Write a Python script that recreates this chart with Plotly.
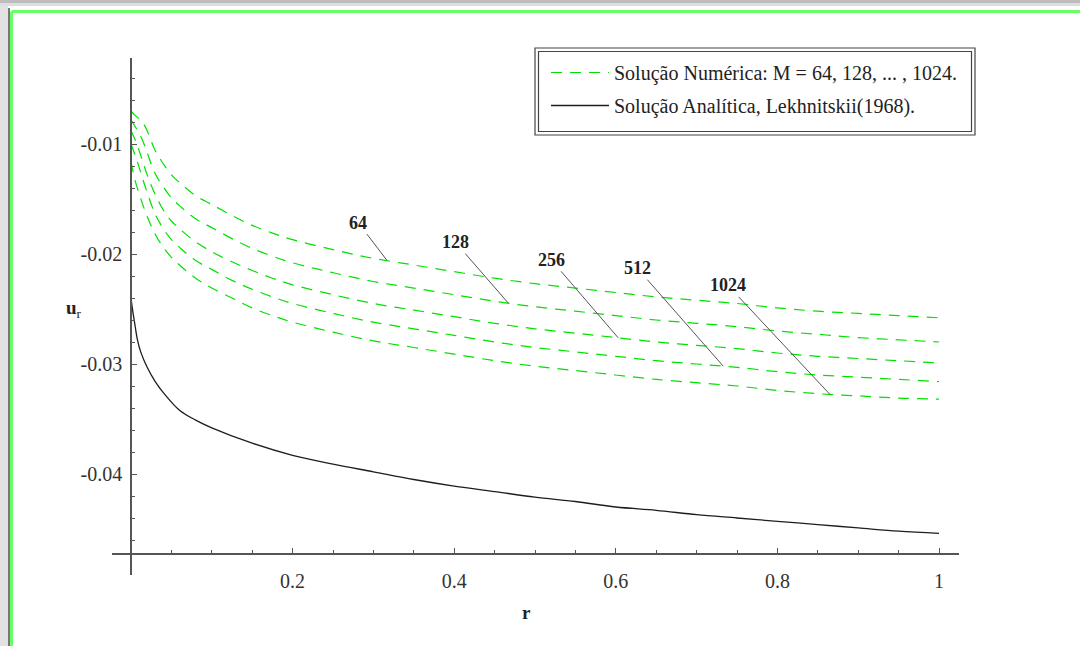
import numpy as np
import plotly.graph_objects as go

# ---------------- data ----------------
r_num = [0, 0.005, 0.01, 0.015, 0.02, 0.03, 0.04, 0.05, 0.06, 0.08, 0.1, 0.125, 0.15, 0.175, 0.2,
         0.25, 0.3, 0.35, 0.4, 0.45, 0.5, 0.55, 0.6, 0.65, 0.7, 0.75, 0.8, 0.85, 0.9, 0.95, 1.0]

u_m64 = [-0.0070, -0.0074, -0.0077, -0.0081, -0.0088, -0.0106, -0.0118, -0.0128, -0.0135, -0.0147,
         -0.0155, -0.0165, -0.0174, -0.0181, -0.0187, -0.0196, -0.0204, -0.0210, -0.0216, -0.0222,
         -0.0227, -0.0231, -0.0235, -0.0239, -0.0242, -0.0245, -0.0249, -0.0252, -0.0254, -0.0256, -0.0258]
u_m128 = [-0.0078, -0.0084, -0.0090, -0.0098, -0.0108, -0.0127, -0.0139, -0.0149, -0.0156, -0.0168,
          -0.0176, -0.0186, -0.0195, -0.0202, -0.0208, -0.0217, -0.0225, -0.0231, -0.0237, -0.0243,
          -0.0248, -0.0252, -0.0256, -0.0260, -0.0263, -0.0266, -0.0270, -0.0273, -0.0276, -0.0278, -0.0280]
u_m256 = [-0.0088, -0.0096, -0.0106, -0.0117, -0.0128, -0.0146, -0.0160, -0.0170, -0.0177, -0.0189,
          -0.0198, -0.0207, -0.0215, -0.0222, -0.0228, -0.0237, -0.0245, -0.0251, -0.0257, -0.0263,
          -0.0268, -0.0272, -0.0276, -0.0280, -0.0283, -0.0286, -0.0290, -0.0293, -0.0295, -0.0297, -0.0299]
u_m512 = [-0.0100, -0.0110, -0.0121, -0.0133, -0.0144, -0.0164, -0.0177, -0.0187, -0.0194, -0.0206,
          -0.0214, -0.0224, -0.0232, -0.0239, -0.0245, -0.0254, -0.0262, -0.0268, -0.0274, -0.0280,
          -0.0285, -0.0289, -0.0293, -0.0297, -0.0300, -0.0303, -0.0307, -0.0310, -0.0312, -0.0314, -0.0316]
u_m1024 = [-0.0116, -0.0133, -0.0145, -0.0156, -0.0166, -0.0182, -0.0194, -0.0203, -0.0210, -0.0222,
           -0.0231, -0.0240, -0.0249, -0.0256, -0.0262, -0.0271, -0.0279, -0.0285, -0.0291, -0.0297,
           -0.0302, -0.0306, -0.0310, -0.0314, -0.0317, -0.0320, -0.0324, -0.0327, -0.0329, -0.0331, -0.0332]

r_ana = [0, 0.002, 0.005, 0.008, 0.012, 0.02, 0.03, 0.04, 0.06, 0.08, 0.1, 0.15, 0.2, 0.25, 0.3,
         0.35, 0.4, 0.45, 0.5, 0.55, 0.6, 0.65, 0.7, 0.75, 0.8, 0.85, 0.9, 0.95, 1.0]
u_ana = [-0.0240, -0.0251, -0.0265, -0.0278, -0.0289, -0.0303, -0.0316, -0.0326, -0.0342, -0.0351,
         -0.0358, -0.0372, -0.0383, -0.0391, -0.0398, -0.0405, -0.0411, -0.0416, -0.0421, -0.0425,
         -0.0430, -0.0433, -0.0437, -0.0440, -0.0443, -0.0446, -0.0449, -0.0452, -0.0454]

curve_labels = ["64", "128", "256", "512", "1024"]
label_r = [0.317, 0.467, 0.603, 0.733, 0.865]

x_tickvals = [0.2, 0.4, 0.6, 0.8, 1.0]
x_ticktext = ["0.2", "0.4", "0.6", "0.8", "1"]
y_tickvals = [-0.04, -0.03, -0.02, -0.01]
y_ticktext = ["-0.04", "-0.03", "-0.02", "-0.01"]

legend_num = "Solução Numérica: M = 64, 128, ... , 1024."
legend_ana = "Solução Analítica, Lekhnitskii(1968)."

# ---------------- layout geometry ----------------
W, H = 1080, 646
L, R, T, B = 112, 959, 58, 575   # plot area in pixels


def px(x):
    return (x - L) / (R - L)


def py(y):
    return (B - y) / (B - T)


SERIF = "Liberation Serif"
GREEN = "rgb(0,225,0)"

numeric = [u_m64, u_m128, u_m256, u_m512, u_m1024]

fig = go.Figure()
for i, ys in enumerate(numeric):
    fig.add_trace(go.Scatter(
        x=r_num, y=ys, mode="lines", line_shape="spline",
        line=dict(color=GREEN, width=1.2, dash="11px,8px"),
        name=legend_num, legendgroup="num", showlegend=(i == 0),
    ))
fig.add_trace(go.Scatter(
    x=r_ana, y=u_ana, mode="lines", line_shape="spline",
    line=dict(color="#1e1e1e", width=1.3),
    name=legend_ana, legendgroup="ana",
))

# curve labels with leader lines
offsets = [(-29, -38), (-53, -61), (-67, -78), (-86, -98), (-102, -109)]
for lab, rr, ys, (ax, ay) in zip(curve_labels, label_r, numeric, offsets):
    yv = float(np.interp(rr, r_num, ys))
    fig.add_annotation(x=rr, y=yv, xref="x", yref="y", text="<b>" + lab + "</b>",
                       showarrow=True, arrowhead=0, arrowwidth=1, arrowcolor="#555",
                       ax=ax, ay=ay, font=dict(family=SERIF, size=18, color="#222"))

# axis titles
fig.add_annotation(x=px(526), y=py(612), xref="paper", yref="paper", text="<b>r</b>",
                   xanchor="center", yanchor="middle",
                   showarrow=False, font=dict(family=SERIF, size=19, color="#222"))
fig.add_annotation(x=px(74), y=py(309), xref="paper", yref="paper", text="<b>u</b><sub>r</sub>",
                   xanchor="center", yanchor="middle",
                   showarrow=False, font=dict(family=SERIF, size=19, color="#222"))

# window frame decoration + double legend border
shapes = [
    dict(type="rect", xref="paper", yref="paper", x0=px(0), x1=px(W), y0=py(0), y1=py(3),
         fillcolor="#bdbdbd", line_width=0, layer="below"),
    dict(type="rect", xref="paper", yref="paper", x0=px(0), x1=px(W), y0=py(3), y1=py(6),
         fillcolor="#dedede", line_width=0, layer="below"),
    dict(type="rect", xref="paper", yref="paper", x0=px(0), x1=px(8), y0=py(6), y1=py(H),
         fillcolor="#e2e2e2", line_width=0, layer="below"),
    dict(type="line", xref="paper", yref="paper", x0=px(9), x1=px(9), y0=py(8), y1=py(H),
         line=dict(color="#777777", width=2)),
    dict(type="line", xref="paper", yref="paper", x0=px(11.5), x1=px(W), y0=py(11.5), y1=py(11.5),
         line=dict(color="#66ff66", width=3)),
    dict(type="line", xref="paper", yref="paper", x0=px(11.5), x1=px(11.5), y0=py(11.5), y1=py(H),
         line=dict(color="#66ff66", width=3)),
    dict(type="rect", xref="paper", yref="paper", x0=px(535), x1=px(975), y0=py(135), y1=py(48),
         line=dict(color="#444", width=1.2)),
    dict(type="rect", xref="paper", yref="paper", x0=px(538.5), x1=px(971.5), y0=py(131.5), y1=py(51.5),
         line=dict(color="#444", width=1.2)),
]

minor_y = [round(-0.046 + 0.002 * k, 4) for k in range(22)]
minor_y = [v for v in minor_y if round(v * 100, 6) != round(v * 100) and v < -0.003]

fig.update_layout(
    width=W, height=H,
    margin=dict(l=L, r=W - R, t=T, b=H - B, pad=0),
    paper_bgcolor="white", plot_bgcolor="white",
    font=dict(family=SERIF, size=19, color="#222"),
    shapes=shapes,
    legend=dict(x=px(546), y=py(53), xanchor="left", yanchor="top",
                borderwidth=0, bgcolor="rgba(0,0,0,0)",
                font=dict(family=SERIF, size=20, color="#222"),
                itemwidth=58, tracegroupgap=4),
    xaxis=dict(range=[(L - 131) / 808, (R - 131) / 808],
               anchor="free", position=(B - 554) / (B - T),
               showline=True, linecolor="#555", linewidth=1.5,
               showgrid=False, zeroline=False,
               ticks="inside", ticklen=5, tickcolor="#555", tickwidth=1,
               tickmode="array", tickvals=x_tickvals, ticktext=x_ticktext,
               ticklabelstandoff=9,
               minor=dict(ticks="inside", ticklen=3, tickcolor="#555",
                          tickmode="array",
                          tickvals=[0.05, 0.1, 0.15, 0.25, 0.3, 0.35, 0.45, 0.5, 0.55,
                                    0.65, 0.7, 0.75, 0.85, 0.9, 0.95],
                          showgrid=False),
               tickfont=dict(family=SERIF, size=20, color="#333")),
    yaxis=dict(range=[-0.01 - (B - 144) / 110 * 0.01, -0.01 + (144 - T) / 110 * 0.01],
               anchor="free", position=(131 - L) / (R - L),
               showline=True, linecolor="#555", linewidth=1.5,
               showgrid=False, zeroline=False,
               ticks="inside", ticklen=5, tickcolor="#555", tickwidth=1,
               tickmode="array", tickvals=y_tickvals, ticktext=y_ticktext,
               ticklabelstandoff=4,
               minor=dict(ticks="inside", ticklen=3, tickcolor="#555",
                          tickmode="array", tickvals=minor_y, showgrid=False),
               tickfont=dict(family=SERIF, size=20, color="#333")),
)

fig.write_html("out.html")
